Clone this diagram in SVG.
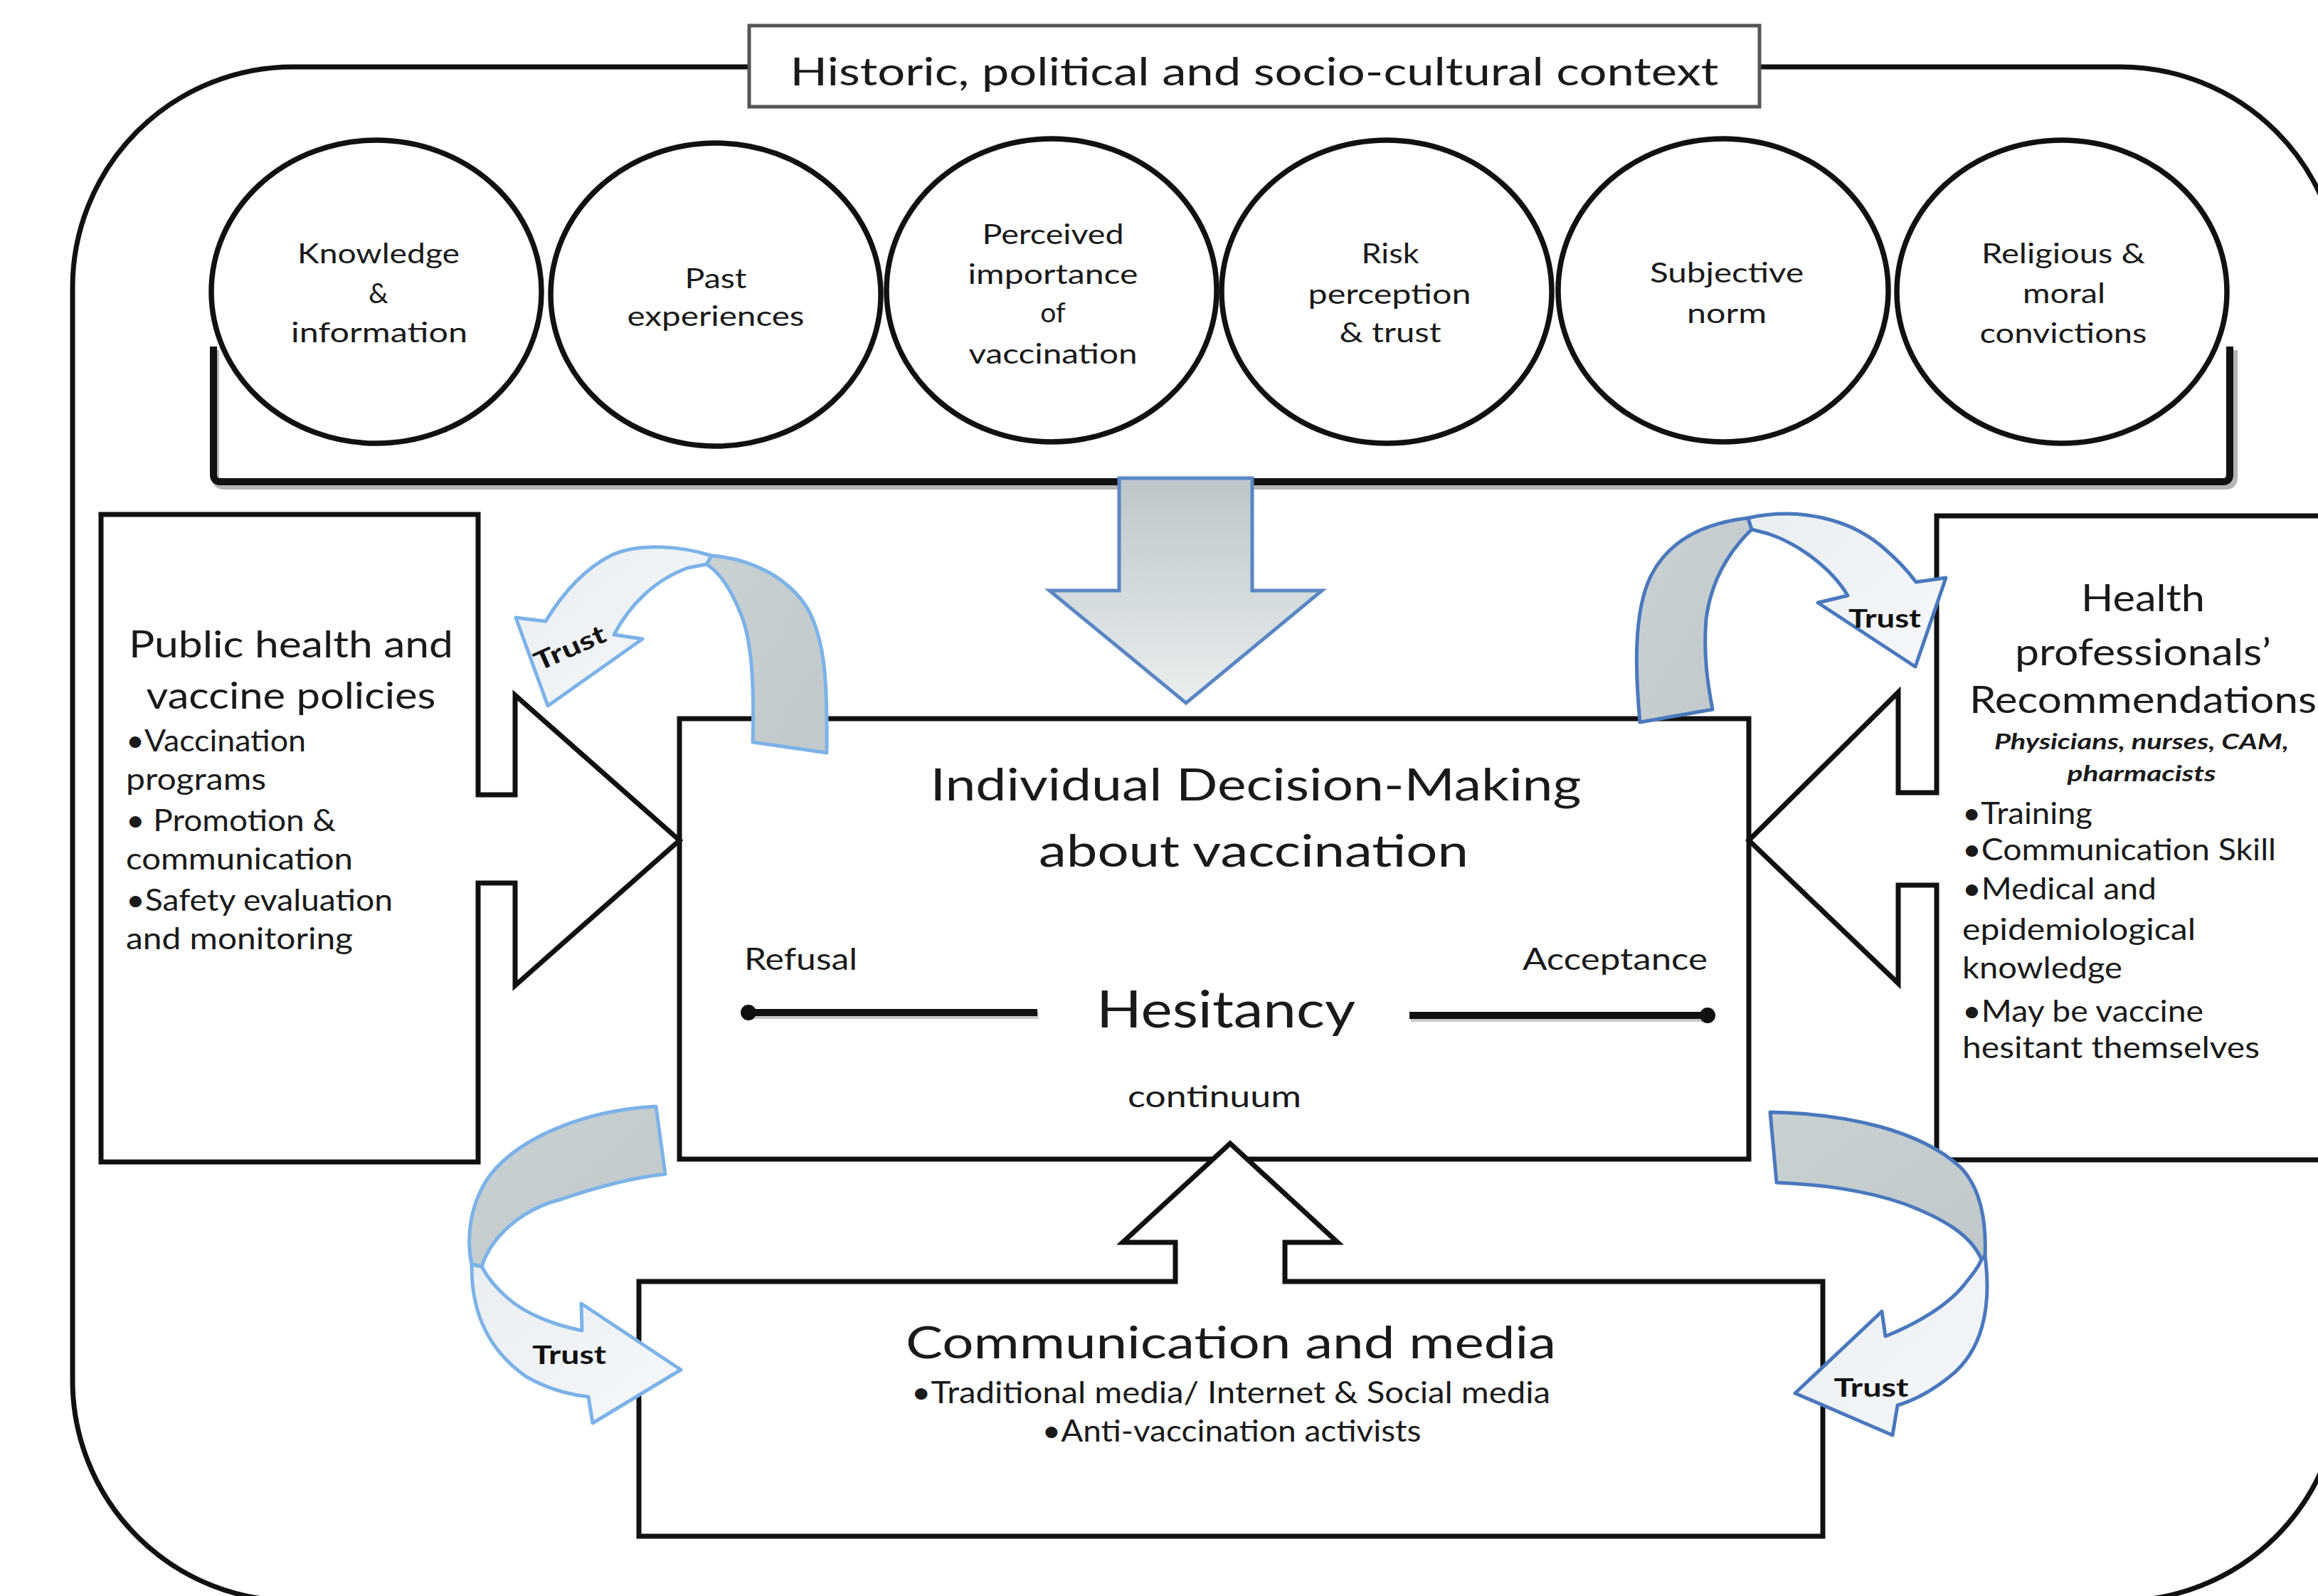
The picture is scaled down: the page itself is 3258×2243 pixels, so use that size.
<svg xmlns="http://www.w3.org/2000/svg" width="3258" height="2243" viewBox="0 0 3258 2243">
<defs>
<style>
.ln{fill:none;stroke:#111;stroke-width:7}
.box{fill:#fff;stroke:#111;stroke-width:7;stroke-linejoin:miter}
.ell{fill:#fff;stroke:#111;stroke-width:7.5}
.t{font-family:Lato,"Open Sans","Liberation Sans",sans-serif;fill:#1a1a1a}
.c{text-anchor:middle}
.e{font-size:39px}
.h1{font-size:62px}
.h2{font-size:52px}
.b{font-size:42px}
.tr{font-size:36px;font-weight:bold;fill:#111}
.grey{fill:url(#gGrey);stroke-width:5;stroke-linejoin:round}
.light{fill:url(#gLight);stroke-width:5;stroke-linejoin:round}
.sl{stroke:#7cb2e8}
.sd{stroke:#4a78bd}
</style>
<linearGradient id="gDown" x1="0" y1="0" x2="0" y2="1">
<stop offset="0" stop-color="#bcc6c9"/><stop offset="1" stop-color="#eaeeef"/>
</linearGradient>
<linearGradient id="gGrey" x1="0" y1="0" x2="1" y2="1">
<stop offset="0" stop-color="#c9d1d3"/><stop offset="1" stop-color="#c0c8cb"/>
</linearGradient>
<linearGradient id="gLight" x1="0" y1="0" x2="1" y2="1">
<stop offset="0" stop-color="#e9eef1"/><stop offset="1" stop-color="#f6f8fa"/>
</linearGradient>
</defs>
<rect width="3258" height="2243" fill="#fff"/>

<g id="context-frame">
<rect x="102" y="94" width="3188" height="2156" rx="310" ry="310" class="ln"/>
</g>

<g id="title">
<rect x="1053" y="36" width="1420" height="114" fill="#fff" stroke="#555" stroke-width="5"/>
<text class="t c" x="1763" y="120" font-size="54" textLength="1305" lengthAdjust="spacingAndGlyphs">Historic, political and socio-cultural context</text>
</g>

<g id="factor-knowledge">
<ellipse cx="529" cy="410" rx="232" ry="213" class="ell"/>
<text class="t c e" x="532" y="370" textLength="228" lengthAdjust="spacingAndGlyphs">Knowledge</text>
<text class="t c e" x="532" y="426">&amp;</text>
<text class="t c e" x="533" y="481" textLength="248" lengthAdjust="spacingAndGlyphs">information</text>
</g>
<g id="factor-past">
<ellipse cx="1006" cy="414" rx="232" ry="213" class="ell"/>
<text class="t c e" x="1006" y="405" textLength="87" lengthAdjust="spacingAndGlyphs">Past</text>
<text class="t c e" x="1006" y="458" textLength="249" lengthAdjust="spacingAndGlyphs">experiences</text>
</g>
<g id="factor-importance">
<ellipse cx="1478" cy="408" rx="232" ry="213" class="ell"/>
<text class="t c e" x="1480" y="343" textLength="199" lengthAdjust="spacingAndGlyphs">Perceived</text>
<text class="t c e" x="1480" y="399" textLength="239" lengthAdjust="spacingAndGlyphs">importance</text>
<text class="t c e" x="1480" y="453">of</text>
<text class="t c e" x="1480" y="511" textLength="237" lengthAdjust="spacingAndGlyphs">vaccination</text>
</g>
<g id="factor-risk">
<ellipse cx="1949" cy="410" rx="232" ry="213" class="ell"/>
<text class="t c e" x="1954" y="370" textLength="81" lengthAdjust="spacingAndGlyphs">Risk</text>
<text class="t c e" x="1953" y="427" textLength="229" lengthAdjust="spacingAndGlyphs">perception</text>
<text class="t c e" x="1954" y="481" textLength="143" lengthAdjust="spacingAndGlyphs">&amp; trust</text>
</g>
<g id="factor-norm">
<ellipse cx="2422" cy="408" rx="232" ry="213" class="ell"/>
<text class="t c e" x="2427" y="397" textLength="216" lengthAdjust="spacingAndGlyphs">Subjective</text>
<text class="t c e" x="2427" y="454" textLength="112" lengthAdjust="spacingAndGlyphs">norm</text>
</g>
<g id="factor-religious">
<ellipse cx="2898" cy="410" rx="232" ry="213" class="ell"/>
<text class="t c e" x="2900" y="370" textLength="230" lengthAdjust="spacingAndGlyphs">Religious &amp;</text>
<text class="t c e" x="2901" y="426" textLength="116" lengthAdjust="spacingAndGlyphs">moral</text>
<text class="t c e" x="2900" y="482" textLength="235" lengthAdjust="spacingAndGlyphs">convictions</text>
</g>

<g id="connectors">
<path d="M303,492 L303,671 Q303,683 315,683 L3128,683 Q3140,683 3140,671 L3140,492" fill="none" stroke="#b5b5b5" stroke-width="10"/>
<path d="M300,487 L300,667 Q300,677 310,677 L3124,677 Q3134,677 3134,667 L3134,487" fill="none" stroke="#111" stroke-width="10"/>
</g>

<g id="individual-decision">
<rect x="955" y="1010" width="1503" height="619" class="box"/>
<text class="t c h1" x="1765" y="1125" textLength="915" lengthAdjust="spacingAndGlyphs">Individual Decision-Making</text>
<text class="t c h1" x="1762" y="1218" textLength="604" lengthAdjust="spacingAndGlyphs">about vaccination</text>
<text class="t" x="1046" y="1363" font-size="43" textLength="159" lengthAdjust="spacingAndGlyphs">Refusal</text>
<text class="t" x="2140" y="1363" font-size="43" textLength="260" lengthAdjust="spacingAndGlyphs">Acceptance</text>
<text class="t c" x="1723" y="1444" font-size="72" textLength="364" lengthAdjust="spacingAndGlyphs">Hesitancy</text>
<text class="t c" x="1707" y="1556" font-size="43" textLength="244" lengthAdjust="spacingAndGlyphs">continuum</text>
<line x1="1055" y1="1427" x2="1460" y2="1427" stroke="#c8c8c8" stroke-width="10"/>
<line x1="1050" y1="1423" x2="1458" y2="1423" stroke="#111" stroke-width="10"/>
<circle cx="1052" cy="1423" r="11" fill="#111"/>
<line x1="1983" y1="1431" x2="2406" y2="1431" stroke="#c8c8c8" stroke-width="10"/>
<line x1="1981" y1="1427" x2="2402" y2="1427" stroke="#111" stroke-width="10"/>
<circle cx="2400" cy="1427" r="11" fill="#111"/>
</g>

<g id="public-health">
<path d="M142,723 L672,723 L672,1117 L724,1117 L724,977 L955,1181 L724,1385 L724,1241 L672,1241 L672,1633 L142,1633 Z" class="box"/>
<text class="t c h2" x="409" y="924" textLength="456" lengthAdjust="spacingAndGlyphs">Public health and</text>
<text class="t c h2" x="409" y="996" textLength="407" lengthAdjust="spacingAndGlyphs">vaccine policies</text>
<text class="t b" x="177" y="1056" textLength="253" lengthAdjust="spacingAndGlyphs">•Vaccination</text>
<text class="t b" x="177" y="1110" textLength="197" lengthAdjust="spacingAndGlyphs">programs</text>
<text class="t b" x="177" y="1168" textLength="295" lengthAdjust="spacingAndGlyphs">• Promotion &amp;</text>
<text class="t b" x="177" y="1222" textLength="319" lengthAdjust="spacingAndGlyphs">communication</text>
<text class="t b" x="177" y="1280" textLength="375" lengthAdjust="spacingAndGlyphs">•Safety evaluation</text>
<text class="t b" x="177" y="1334" textLength="319" lengthAdjust="spacingAndGlyphs">and monitoring</text>
</g>

<g id="health-professionals">
<path d="M3300,725 L2722,725 L2722,1114 L2668,1114 L2668,973 L2458,1181 L2668,1382 L2668,1244 L2722,1244 L2722,1630 L3300,1630" class="box"/>
<text class="t c h2" x="3012" y="859" textLength="174" lengthAdjust="spacingAndGlyphs">Health</text>
<text class="t c h2" x="3012" y="935" textLength="360" lengthAdjust="spacingAndGlyphs">professionals’</text>
<text class="t c h2" x="3012" y="1002" textLength="488" lengthAdjust="spacingAndGlyphs">Recommendations</text>
<text class="t c" x="3010" y="1053" font-size="30" font-style="italic" font-weight="bold" textLength="414" lengthAdjust="spacingAndGlyphs">Physicians, nurses, CAM,</text>
<text class="t c" x="3010" y="1098" font-size="30" font-style="italic" font-weight="bold" textLength="209" lengthAdjust="spacingAndGlyphs">pharmacists</text>
<text class="t b" x="2758" y="1158" textLength="183" lengthAdjust="spacingAndGlyphs">•Training</text>
<text class="t b" x="2758" y="1209" textLength="441" lengthAdjust="spacingAndGlyphs">•Communication Skill</text>
<text class="t b" x="2758" y="1264" textLength="273" lengthAdjust="spacingAndGlyphs">•Medical and</text>
<text class="t b" x="2758" y="1321" textLength="328" lengthAdjust="spacingAndGlyphs">epidemiological</text>
<text class="t b" x="2758" y="1375" textLength="225" lengthAdjust="spacingAndGlyphs">knowledge</text>
<text class="t b" x="2758" y="1436" textLength="339" lengthAdjust="spacingAndGlyphs">•May be vaccine</text>
<text class="t b" x="2758" y="1487" textLength="418" lengthAdjust="spacingAndGlyphs">hesitant themselves</text>
</g>

<g id="communication-media">
<path d="M898,1801 L1652,1801 L1652,1746 L1578,1746 L1729,1607 L1880,1746 L1806,1746 L1806,1801 L2562,1801 L2562,2159 L898,2159 Z" class="box"/>
<text class="t c h1" x="1730" y="1909" textLength="914" lengthAdjust="spacingAndGlyphs">Communication and media</text>
<text class="t c b" x="1730" y="1972" textLength="898" lengthAdjust="spacingAndGlyphs">•Traditional media/ Internet &amp; Social media</text>
<text class="t c b" x="1731" y="2026" textLength="533" lengthAdjust="spacingAndGlyphs">•Anti-vaccination activists</text>
</g>

<g id="influence-arrow">
<path d="M1573,672 L1760,672 L1760,830 L1858,830 L1667,988 L1475,830 L1573,830 Z" fill="url(#gDown)" stroke="#5a86c4" stroke-width="5" stroke-linejoin="miter"/>
</g>

<g id="trust-top-left">
<path class="grey sl" d="M1000,781 C1060,785 1110,815 1135,855 C1160,900 1163,960 1162,1058 L1058,1043 C1060,970 1058,900 1040,860 C1028,830 1012,805 993,793 Z"/>
<path class="light sl" d="M1000,781 C960,768 900,762 860,780 C820,800 790,835 767,873 L725,868 L770,992 L903,898 L863,892 C885,850 920,815 967,798 L993,793 Z"/>
<text class="t tr c" transform="translate(806,922) rotate(-24)" textLength="106" lengthAdjust="spacingAndGlyphs">Trust</text>
</g>

<g id="trust-top-right">
<path class="grey sd" d="M2305,1015 C2298,940 2296,860 2320,810 C2345,760 2395,735 2457,728 L2462,744 C2430,775 2405,815 2398,870 C2394,920 2400,960 2407,997 Z"/>
<path class="light sd" d="M2457,728 C2530,712 2600,730 2645,768 C2665,785 2682,803 2693,818 L2735,812 L2692,937 L2555,847 L2597,837 C2575,800 2530,765 2485,750 L2462,744 Z"/>
<text class="t tr c" x="2649" y="882" textLength="102" lengthAdjust="spacingAndGlyphs">Trust</text>
</g>

<g id="trust-bottom-left">
<path class="grey sl" d="M922,1555 C820,1560 730,1600 690,1650 C660,1690 655,1740 663,1777 L677,1780 C690,1740 730,1700 790,1685 C840,1668 890,1655 935,1650 Z"/>
<path class="light sl" d="M663,1777 C662,1850 690,1900 740,1935 C770,1952 800,1960 827,1963 L833,2000 L957,1925 L817,1832 L818,1870 C780,1862 740,1848 712,1823 C695,1808 685,1795 677,1780 Z"/>
<text class="t tr c" x="800" y="1917" textLength="104" lengthAdjust="spacingAndGlyphs">Trust</text>
</g>

<g id="trust-bottom-right">
<path class="grey sd" d="M2488,1563 C2600,1565 2700,1590 2755,1640 C2785,1670 2792,1720 2790,1765 L2785,1770 C2770,1735 2730,1712 2677,1692 C2620,1672 2560,1665 2497,1662 Z"/>
<path class="light sd" d="M2790,1765 C2800,1840 2785,1900 2740,1935 C2715,1955 2690,1968 2667,1975 L2660,2017 L2523,1958 L2645,1843 L2650,1878 C2690,1862 2740,1835 2765,1800 C2775,1788 2782,1778 2785,1770 Z"/>
<text class="t tr c" x="2630" y="1963" textLength="105" lengthAdjust="spacingAndGlyphs">Trust</text>
</g>
</svg>
